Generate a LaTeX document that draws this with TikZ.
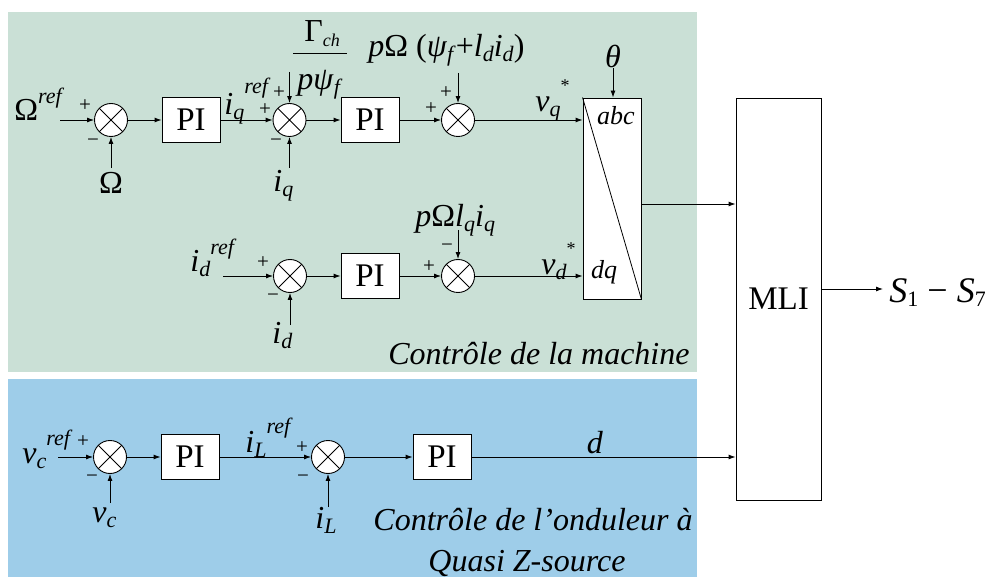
\documentclass[tikz,border=0pt]{standalone}
\usepackage{fontspec}
\setmainfont{Liberation Serif}
\newfontfamily\tms{Liberation Serif}
\usetikzlibrary{arrows.meta,calc}
\definecolor{bggreen}{RGB}{202,224,214}
\definecolor{bgblue}{RGB}{158,205,233}
\newcommand\lsb[1]{\raisebox{-5pt}{\fontsize{22}{22}\selectfont #1}}
\newcommand\lsp[2][17pt]{\raisebox{#1}{\fontsize{22}{22}\selectfont #2}}
\begin{document}
\begin{tikzpicture}[x=1pt,y=-1pt,line width=0.9pt,>={Latex[length=7pt,width=5pt]},
  sum/.style={circle,draw,fill=white,minimum size=33pt,inner sep=0pt,
    path picture={\draw[line width=0.8pt] (path picture bounding box.north west)--(path picture bounding box.south east)
      (path picture bounding box.north east)--(path picture bounding box.south west);}},
  pib/.style={draw,fill=white,minimum width=58pt,minimum height=45pt,inner sep=0pt,font=\tms\fontsize{33}{33}\selectfont},
  lbl/.style={inner sep=0pt,font=\tms\fontsize{32}{32}\selectfont},
  sml/.style={inner sep=0pt,font=\tms\fontsize{26}{26}\selectfont\itshape},
  sgn/.style={inner sep=0pt,font=\tms\fontsize{21}{21}\selectfont}]
\useasboundingbox (0,0) rectangle (985,577);
\fill[bggreen] (8,12) rectangle (697,372);
\fill[bgblue] (8,379) rectangle (697,577);

% summing junctions
\node[sum] (s1) at (111,120) {};
\node[sum] (s2) at (289.5,120) {};
\node[sum] (s3) at (458,120) {};
\node[sum] (s4) at (290,276) {};
\node[sum] (s5) at (458,276) {};
\node[sum] (s6) at (110,457) {};
\node[sum] (s7) at (328,457) {};
% PI blocks
\node[pib] (p1) at (191,120) {PI};
\node[pib] (p2) at (370,120) {PI};
\node[pib] (p3) at (370,276) {PI};
\node[pib] (p4) at (190,457) {PI};
\node[pib] (p5) at (442,457) {PI};
% transformation block
\node[draw,fill=white,minimum width=58pt,minimum height=201pt,inner sep=0pt] (T) at (612,198.5) {};
\draw[line width=0.8pt] (T.north west) -- (T.south east);
\node[sml] (abc) at (616,116) {abc};
\node[sml] (dq) at (604,272) {dq};
% MLI
\node[draw,fill=white,minimum width=85pt,minimum height=402pt,inner sep=0pt,font=\tms\fontsize{33}{33}\selectfont] (M) at (778.5,299) {MLI};

% labels
\node[lbl,anchor=base west] (Oref) at (14,121) {Ω\lsp{\textit{ref}}};
\node[lbl,anchor=base] (Om) at (111,194) {Ω};
\node[lbl,anchor=base west] (iqr) at (224,115) {\textit{i}\lsb{\textit{q}}\lsp[21pt]{\textit{ref}}};
\node[lbl,anchor=base west] (iq) at (273,192) {\textit{i}\lsb{\textit{q}}};
\node[lbl,anchor=base west] (Gch) at (304,42) {Γ\lsb{\fontsize{18}{18}\selectfont\textit{ch}}};
\draw[line width=0.8pt] (293,53) -- (347,53);
\node[lbl,anchor=base west] (ppsi) at (297,90) {\textit{pψ}\lsb{\textit{f}}};
\node[lbl,anchor=base west] (pOm) at (368,57) {\textit{p}Ω (\textit{ψ}\lsb{\textit{f}}+\textit{l}\lsb{\textit{d}}\textit{i}\lsb{\textit{d}})};
\node[lbl] (th) at (613,56) {\textit{θ}};
\node[lbl,anchor=base west] (vq) at (535,112) {\textit{v}\lsb{\textit{q}}\lsp[20pt]{\fontsize{18}{18}\selectfont *}};
\node[lbl,anchor=base west] (idr) at (190,272) {\textit{i}\lsb{\textit{d}}\lsp{\textit{ref}}};
\node[lbl,anchor=base west] (id) at (272,343) {\textit{i}\lsb{\textit{d}}};
\node[lbl,anchor=base west] (pOl) at (415,227) {\textit{p}Ω\textit{l}\lsb{\textit{q}}\textit{i}\lsb{\textit{q}}};
\node[lbl,anchor=base west] (vd) at (541,275) {\textit{v}\lsb{\textit{d}}\lsp[20pt]{\fontsize{18}{18}\selectfont *}};
\node[lbl,anchor=base east] (cm) at (690,364) {\textit{Contrôle de la machine}};
\node[lbl,anchor=base west] (vcr) at (22,463) {\textit{v}\lsb{\textit{c}}\lsp[18pt]{\textit{ref}}};
\node[lbl,anchor=base west] (vc) at (92,522) {\textit{v}\lsb{\textit{c}}};
\node[lbl,anchor=base west] (iLr) at (245,452) {\textit{i}\lsb{\textit{L}}\lsp[19pt]{\textit{ref}}};
\node[lbl,anchor=base west] (iL) at (315,528) {\textit{i}\lsb{\textit{L}}};
\node[lbl,anchor=base] (dl) at (595,453) {\textit{d}};
\node[lbl,anchor=base east] (co) at (693,530) {\textit{Contrôle de l’onduleur à}};
\node[lbl,anchor=base] (qz) at (527,571) {\textit{Quasi Z-source}};
\node[lbl,anchor=base west,font=\tms\fontsize{36}{36}\selectfont] (S) at (889,302) {\textit{S}\lsb{1} − \textit{S}\lsb{7}};

% signs
\node[sgn] at (85,106) {+};
\node[sgn] at (93,143) {−};
\node[sgn] at (265,110) {+};
\node[sgn] at (279,93) {+};
\node[sgn] at (276,143) {−};
\node[sgn] at (431,109) {+};
\node[sgn] at (446,93) {+};
\node[sgn] at (263,263) {+};
\node[sgn] at (273,298) {−};
\node[sgn] at (429,267) {+};
\node[sgn] at (447,248) {−};
\node[sgn] at (83,442) {+};
\node[sgn] at (92,479) {−};
\node[sgn] at (302,448) {+};
\node[sgn] at (303,479) {−};

% connectors, q loop
\coordinate (a1) at (60,120);
\coordinate (f1) at (111,168);
\coordinate (f2) at (289.5,168);
\coordinate (t2) at (289.5,72);
\coordinate (t3) at (458,73);
\draw[->] (a1) -- (s1.west);
\draw[->] (f1) -- (s1.south);
\draw[->] (s1) -- (p1);
\draw[->] (p1) -- (s2);
\draw[->] (f2) -- (s2.south);
\draw[->] (t2) -- (s2.north);
\draw[->] (s2) -- (p2);
\draw[->] (p2) -- (s3);
\draw[->] (t3) -- (s3.north);
\draw[->] (s3.east) -- (s3.east -| T.west);
\draw[->] (th.south) -- (th.south |- T.north);
% d loop
\coordinate (a4) at (223,276);
\coordinate (f4) at (290,325);
\coordinate (t5) at (458,230);
\draw[->] (a4) -- (s4.west);
\draw[->] (f4) -- (s4.south);
\draw[->] (s4) -- (p3);
\draw[->] (p3) -- (s5);
\draw[->] (t5) -- (s5.north);
\draw[->] (s5.east) -- (s5.east -| T.west);
% to MLI and out
\coordinate (out) at (883,289);
\draw[->] ([yshift=-5.5pt]T.east) -- ([yshift=-5.5pt]T.east -| M.west);
\draw[->] ([yshift=10pt]M.east) -- (out);
% inverter loop
\coordinate (a6) at (58,457);
\coordinate (f6) at (110,503);
\coordinate (f7) at (328,507);
\draw[->] (a6) -- (s6.west);
\draw[->] (f6) -- (s6.south);
\draw[->] (s6) -- (p4);
\draw[->] (p4) -- (s7);
\draw[->] (f7) -- (s7.south);
\draw[->] (s7) -- (p5);
\draw[->] (p5.east) -- (p5.east -| M.west);
\end{tikzpicture}
\end{document}
